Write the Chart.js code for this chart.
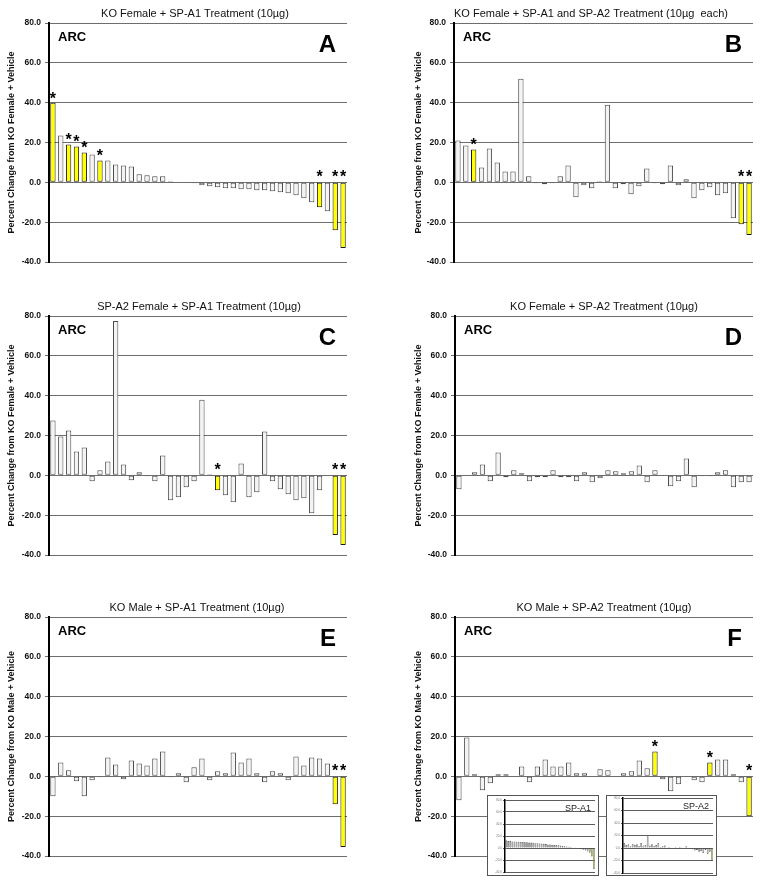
<!DOCTYPE html>
<html><head><meta charset="utf-8">
<script src="https://cdn.jsdelivr.net/npm/chart.js@4.4.1/dist/chart.umd.min.js"></script>
<style>
html,body{margin:0;padding:0;background:#fff;}
#wrap{position:relative;width:762px;height:886px;overflow:hidden;background:#fff;}
canvas{position:absolute;display:block;}
</style></head><body>
<div id="wrap">
<canvas id="cA" width="381" height="295" style="left:0px;top:0px"></canvas>
<canvas id="cB" width="381" height="295" style="left:381px;top:0px"></canvas>
<canvas id="cC" width="381" height="295" style="left:0px;top:293px"></canvas>
<canvas id="cD" width="381" height="295" style="left:381px;top:293px"></canvas>
<canvas id="cE" width="381" height="292" style="left:0px;top:594px"></canvas>
<canvas id="cF" width="381" height="292" style="left:381px;top:594px"></canvas>
<canvas id="cI1" width="112" height="81" style="left:487px;top:795px"></canvas>
<canvas id="cI2" width="111" height="81" style="left:606px;top:795px"></canvas>
</div>
<script>
// ---------- data ----------
const categories = Array.from({length: 38}, (_, i) => String(i + 1));
const yTicks = [-40, -20, 0, 20, 40, 60, 80];

const titleA = 'KO Female + SP-A1 Treatment (10µg)';
const titleB = 'KO Female + SP-A1 and SP-A2 Treatment (10µg  each)';
const titleC = 'SP-A2 Female + SP-A1 Treatment (10µg)';
const titleD = 'KO Female + SP-A2 Treatment (10µg)';
const titleE = 'KO Male + SP-A1 Treatment (10µg)';
const titleF = 'KO Male + SP-A2 Treatment (10µg)';
const yTitleFemale = 'Percent Change from KO Female + Vehicle';
const yTitleMale = 'Percent Change from KO Male + Vehicle';
const regionLabel = 'ARC';

const valuesA = [40, 23.5, 19, 18, 15, 14, 11, 11, 9, 8.5, 8, 4, 3.5, 3, 3, 0.5, 0.3,
  -0.3, -0.5, -1.5, -2, -2.5, -3, -3, -3.5, -3.5, -4, -4, -4.5, -5, -5.5, -6.5, -8, -10,
  -12.5, -14.5, -24, -33];
const sigA = [0, 2, 3, 4, 6, 34, 36, 37];

const valuesB = [21, 18.5, 16.5, 7.5, 17, 10, 5.5, 5.5, 52, 3, -0.5, -1, -0.5, 3, 8.5,
  -7.5, -1.5, -3, 0.5, 39, -3, -1, -6, -2, 7, -0.5, -1, 8.5, -1.5, 1.5, -8, -4, -2.5,
  -6.5, -5.5, -18, -21, -26.5];
const sigB = [2, 36, 37];

const valuesC = [27.5, 19.5, 22.5, 12, 14, -3, 2.5, 7, 77.5, 5.5, -2.5, 1.5, -0.5, -3, 10,
  -12.5, -11, -6, -3, 38, 0.5, -7.5, -10, -13.5, 6, -11, -8.5, 22, -3, -7, -9.5, -12.5,
  -11.5, -19, -7.5, 0.3, -30, -35];
const sigC = [21, 36, 37];

const valuesD = [-7, 0.3, 1.5, 5.5, -3, 11.5, -1, 2.5, 1, -3, -1, -1, 2.5, -1, -1, -3, 1.5,
  -3.5, -1.5, 2.5, 2, 1, 2, 5, -3.5, 2.5, -0.3, -5.5, -3, 8.5, -6, -0.5, -0.5, 1.5, 2.5,
  -6, -3.5, -3.5];
const sigD = [];

const valuesE = [-10, 7, 3, -2.5, -10, -2, -0.5, 9.5, 6, -1.5, 8, 6.5, 5.5, 9, 12.5, -0.5,
  1.5, -3, 4.5, 9, -2, 2.5, 1.5, 12, 7, 9, 1.5, -3, 2.5, 1.5, -2, 10, 5.5, 9.5, 9, 6.5,
  -14, -35.5];
const sigE = [36, 37];

const valuesF = [-12, 19.5, 1, -7, -3.5, 1, 1, 0.3, 5, -3, 5, 8.5, 5, 5, 7, 1.5, 1.5, 0.3,
  3.5, 3, 0.3, 1.5, 2.5, 8, 4, 12.5, -1.5, -7.5, -4, 0.3, -2, -3, 7, 8.5, 8.5, 1, -3, -20];
const sigF = [25, 32, 37];

// inset thumbnails in panel F
const insetTitle1 = 'SP-A1';
const insetTitle2 = 'SP-A2';
const insetValues1 = [13, 12, 11.5, 11, 11, 10.5, 10.5, 10, 10, 9.5, 9.5, 9, 9, 8.5, 8, 8,
  7.5, 7.5, 7, 6.5, 6, 6, 5.5, 5, 5, 4.5, 4, 3.5, 3, 2.5, 2, 1.5, 1, 0.5, -0.5, -1, -2,
  -3, -4, -6, -8, -14, -35];
const insetSig1 = [41, 42];
const insetValues2 = [8, 5, 6, 3, 7, 5, 6, 3, 8, 4, 5, 19, 4, 6, 3, 5, 8, 2, 3, 4, 1, 2,
  -1, 1, 2, 1, 2, 0.5, 1, 3, 0.5, -1, -2, -4, -3, -6, -5, -8, -3, -10, -6, -20];
const insetSig2 = [41];

// ---------- drawing ----------
const FONT = '"Liberation Sans", Arial, Helvetica, sans-serif';

const decor = {
  id: 'decor',
  beforeDraw(chart, args, o) {
    if (!o.box) return;
    const ctx = chart.ctx;
    ctx.save();
    ctx.fillStyle = '#fff';
    ctx.fillRect(0, 0, chart.width, chart.height);
    ctx.strokeStyle = '#555';
    ctx.lineWidth = 1;
    ctx.strokeRect(0.5, 0.5, chart.width - 1, chart.height - 1);
    ctx.restore();
  },
  afterDatasetsDraw(chart, args, o) {
    const {ctx, chartArea: ca, scales: {x, y}} = chart;
    const data = chart.data.datasets[0].data;
    ctx.save();
    ctx.fillStyle = '#000';
    ctx.textAlign = 'center';
    ctx.textBaseline = 'alphabetic';
    if (o.stars) {
      ctx.font = 'bold 16px ' + FONT;
      o.sig.forEach(i => {
        const v = data[i];
        const px = x.getPixelForValue(i);
        const py = y.getPixelForValue(Math.max(v, 0));
        ctx.fillText('*', px, py + (v > 0 ? 1 : 0));
      });
    }
    if (o.title) {
      ctx.font = '11px ' + FONT;
      ctx.fillStyle = '#111';
      ctx.fillText(o.title, o.titleX, 16.5);
    }
    if (o.region) {
      ctx.fillStyle = '#000';
      ctx.textAlign = 'left';
      ctx.font = 'bold 13px ' + FONT;
      ctx.fillText(o.region, ca.left + 9, ca.top + 18);
    }
    if (o.letter) {
      ctx.textAlign = 'right';
      ctx.font = 'bold 24px ' + FONT;
      ctx.fillText(o.letter, ca.right - 11, ca.top + 29);
    }
    if (o.insetLabel) {
      ctx.textAlign = 'right';
      ctx.font = '9px ' + FONT;
      ctx.fillStyle = '#222';
      ctx.fillText(o.insetLabel, ca.right - 4, ca.top + 11);
    }
    ctx.restore();
  }
};

function makePanel(p) {
  const sigSet = new Set(p.sig);
  return new Chart(document.getElementById(p.id), {
    type: 'bar',
    data: {
      labels: categories,
      datasets: [{
        data: p.values,
        backgroundColor: ctx => sigSet.has(ctx.dataIndex) ? '#ffff00' : '#f3f3f3',
        borderColor: ctx => sigSet.has(ctx.dataIndex) ? '#1a1a1a' : '#4a4a4a',
        borderWidth: 1,
        borderSkipped: false,
        barPercentage: 0.68,
        categoryPercentage: 1.0
      }]
    },
    options: {
      responsive: false,
      animation: false,
      devicePixelRatio: 1,
      layout: {padding: {left: p.padL, right: p.padR, top: 23, bottom: p.padB}},
      plugins: {
        legend: {display: false},
        tooltip: {enabled: false},
        decor: {stars: true, sig: p.sig, title: p.title, titleX: p.titleX, region: regionLabel, letter: p.letter}
      },
      scales: {
        x: {display: false, offset: true},
        y: {
          min: -40, max: 80,
          afterBuildTicks: s => { s.ticks = yTicks.map(v => ({value: v})); },
          afterFit: s => { s.width = p.axisW; },
          ticks: {
            callback: v => Number(v).toFixed(1),
            font: {family: FONT, size: 8.5, weight: 'bold'},
            color: '#111',
            padding: 4
          },
          grid: {color: '#6e6e6e', lineWidth: 1, tickLength: 4, drawTicks: true},
          border: {color: '#000', width: 2},
          title: {
            display: true,
            text: p.yTitle,
            font: {family: FONT, size: 9, weight: 'bold'},
            color: '#111',
            padding: {top: 6, bottom: 0}
          }
        }
      }
    },
    plugins: [decor]
  });
}

function makeInset(p) {
  const sigSet = new Set(p.sig);
  return new Chart(document.getElementById(p.id), {
    type: 'bar',
    data: {
      labels: p.values.map((_, i) => String(i + 1)),
      datasets: [{
        data: p.values,
        backgroundColor: ctx => sigSet.has(ctx.dataIndex) ? '#c8c800' : '#bdbdbd',
        borderColor: ctx => sigSet.has(ctx.dataIndex) ? '#555' : '#333',
        borderWidth: 0.6,
        borderSkipped: false,
        barPercentage: 0.8,
        categoryPercentage: 1.0
      }]
    },
    options: {
      responsive: false,
      animation: false,
      devicePixelRatio: 1,
      layout: {padding: {left: 0, right: 4, top: p.padT, bottom: p.padB}},
      plugins: {
        legend: {display: false},
        tooltip: {enabled: false},
        decor: {box: true, stars: false, insetLabel: p.label}
      },
      scales: {
        x: {display: false, offset: true},
        y: {
          min: -40, max: 80,
          afterBuildTicks: s => { s.ticks = yTicks.map(v => ({value: v})); },
          afterFit: s => { s.width = p.axisW; },
          ticks: {
            callback: v => Number(v).toFixed(1),
            font: {family: FONT, size: 3},
            color: '#777',
            padding: 1
          },
          grid: {color: '#333', lineWidth: 0.8, tickLength: 2},
          border: {color: '#000', width: 1.5}
        }
      }
    },
    plugins: [decor]
  });
}

makePanel({id: 'cA', values: valuesA, sig: sigA, title: titleA, titleX: 195, letter: 'A',
  yTitle: yTitleFemale, padL: 0, axisW: 49, padR: 34, padB: 33});
makePanel({id: 'cB', values: valuesB, sig: sigB, title: titleB, titleX: 210, letter: 'B',
  yTitle: yTitleFemale, padL: 26, axisW: 47, padR: 9, padB: 33});
makePanel({id: 'cC', values: valuesC, sig: sigC, title: titleC, titleX: 199, letter: 'C',
  yTitle: yTitleFemale, padL: 0, axisW: 49, padR: 34, padB: 33});
makePanel({id: 'cD', values: valuesD, sig: sigD, title: titleD, titleX: 223, letter: 'D',
  yTitle: yTitleFemale, padL: 26, axisW: 48, padR: 9, padB: 33});
makePanel({id: 'cE', values: valuesE, sig: sigE, title: titleE, titleX: 197, letter: 'E',
  yTitle: yTitleMale, padL: 0, axisW: 49, padR: 34, padB: 30});
makePanel({id: 'cF', values: valuesF, sig: sigF, title: titleF, titleX: 223, letter: 'F',
  yTitle: yTitleMale, padL: 26, axisW: 48, padR: 9, padB: 30});

makeInset({id: 'cI1', values: insetValues1, sig: insetSig1, label: insetTitle1, axisW: 18, padT: 5, padB: 4});
makeInset({id: 'cI2', values: insetValues2, sig: insetSig2, label: insetTitle2, axisW: 17, padT: 3, padB: 3});
</script>
</body></html>
